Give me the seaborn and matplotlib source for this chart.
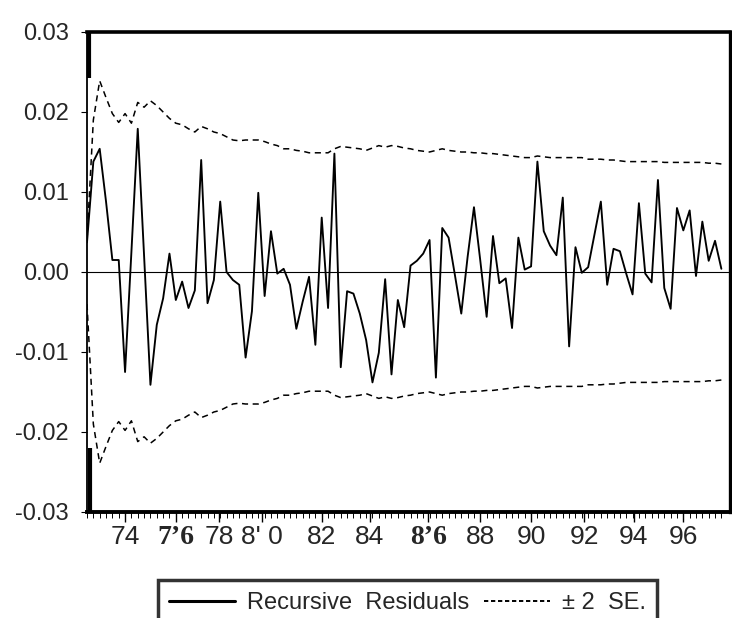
import numpy as np
import pandas as pd
import matplotlib
matplotlib.use("Agg")
import matplotlib.pyplot as plt
import seaborn as sns
from matplotlib.lines import Line2D

# ---- data (quarterly, starting 1972 Q3) ----
start_year = 1972.5
residuals = [
    0.0037, 0.0138, 0.0154, 0.0088, 0.0015, 0.0015, -0.0125, 0.0025, 0.0179, 0.0020,
    -0.0141, -0.0066, -0.0033, 0.0023, -0.0035, -0.0012, -0.0045, -0.0023, 0.0140, -0.0039,
    -0.0010, 0.0088, 0.0000, -0.0010, -0.0016, -0.0107, -0.0049, 0.0099, -0.0030, 0.0051,
    -0.0002, 0.0004, -0.0016, -0.0071, -0.0037, -0.0006, -0.0091, 0.0068, -0.0045, 0.0148,
    -0.0119, -0.0024, -0.0027, -0.0052, -0.0085, -0.0138, -0.0101, -0.0009, -0.0128, -0.0035,
    -0.0069, 0.0008, 0.0014, 0.0023, 0.0040, -0.0132, 0.0055, 0.0043, -0.0004, -0.0052,
    0.0019, 0.0081, 0.0014, -0.0056, 0.0045, -0.0014, -0.0008, -0.0070, 0.0043, 0.0003,
    0.0007, 0.0138, 0.0051, 0.0033, 0.0021, 0.0093, -0.0093, 0.0031, -0.0001, 0.0006,
    0.0047, 0.0088, -0.0016, 0.0029, 0.0026, -0.0002, -0.0028, 0.0086, -0.0002, -0.0013,
    0.0115, -0.0020, -0.0046, 0.0080, 0.0052, 0.0077, -0.0005, 0.0063, 0.0014, 0.0039,
    0.0004,
]
two_se = [
    0.0040, 0.0190, 0.0239, 0.0218, 0.0198, 0.0187, 0.0198, 0.0186, 0.0212, 0.0206,
    0.0214, 0.0208, 0.0200, 0.0192, 0.0186, 0.0184, 0.0179, 0.0175, 0.0182, 0.0179,
    0.0175, 0.0173, 0.0169, 0.0165, 0.0164, 0.0165, 0.0165, 0.0165, 0.0163, 0.0160,
    0.0158, 0.0154, 0.0154, 0.0152, 0.0151, 0.0149, 0.0149, 0.0149, 0.0149, 0.0154,
    0.0157, 0.0156, 0.0155, 0.0154, 0.0152, 0.0155, 0.0158, 0.0156, 0.0158, 0.0157,
    0.0155, 0.0154, 0.0152, 0.0151, 0.0150, 0.0152, 0.0154, 0.0152, 0.0151, 0.0150,
    0.0150, 0.0149, 0.0149, 0.0148, 0.0148, 0.0147, 0.0146, 0.0145, 0.0144, 0.0143,
    0.0143, 0.0145, 0.0144, 0.0143, 0.0143, 0.0143, 0.0143, 0.0143, 0.0143, 0.0141,
    0.0141, 0.0141, 0.0140, 0.0140, 0.0139, 0.0138, 0.0138, 0.0138, 0.0138, 0.0138,
    0.0138, 0.0137, 0.0137, 0.0137, 0.0137, 0.0137, 0.0137, 0.0137, 0.0136, 0.0136,
    0.0135,
]
xtick_positions = [1974.0, 1976.0, 1977.7, 1979.4, 1981.75, 1983.65, 1985.95,
                   1988.0, 1990.0, 1992.1, 1994.05, 1996.0]
xtick_labels = ["74", "7\u20196", "78", "8' 0", "82", "84", "8\u20196",
                "88", "90", "92", "94", "96"]
bold_labels = ["7\u20196", "8\u20196"]
ytick_values = [-0.03, -0.02, -0.01, 0.0, 0.01, 0.02, 0.03]
ytick_labels = ["-0.03", "-0.02", "-0.01", "0.00", "0.01", "0.02", "0.03"]
legend_labels = ["Recursive  Residuals", "\u00b1 2  SE."]

n = len(residuals)
period = start_year + np.arange(n) / 4.0
df = pd.DataFrame({
    "period": period,
    "resid": residuals,
    "upper": np.array(two_se),
    "lower": -np.array(two_se),
})

sns.set_theme(style="white")
plt.rcParams["font.family"] = ["Liberation Sans", "DejaVu Sans"]

W, H = 732, 618
fig = plt.figure(figsize=(W / 100, H / 100), dpi=100)
ax = fig.add_axes([87 / W, 1 - 512 / H, (730 - 87) / W, (512 - 32) / H])

ax.axhline(0, color="black", lw=0.8, zorder=1)
sns.lineplot(data=df, x="period", y="resid", ax=ax, color="black", lw=1.35,
             estimator=None, sort=False, legend=False)
for col in ["upper", "lower"]:
    sns.lineplot(data=df, x="period", y=col, ax=ax, color="black", lw=1.1,
                 linestyle=(0, (4, 3)), estimator=None, sort=False, legend=False)

ax.set_xlim(start_year, 1997.84)
ax.set_ylim(-0.03, 0.03)
ax.set_xlabel("")
ax.set_ylabel("")

for side, lw in [("top", 2.6), ("right", 2.4), ("bottom", 2.8), ("left", 1.3)]:
    ax.spines[side].set_visible(True)
    ax.spines[side].set_color("black")
    ax.spines[side].set_linewidth(lw)
# heavier stretches of the left frame line seen in the reference
ax.plot([0.003, 0.003], [1.0, 0.905], transform=ax.transAxes, color="black",
        lw=3.0, clip_on=False, solid_capstyle="butt")
ax.plot([0.005, 0.005], [0.0, 0.133], transform=ax.transAxes, color="black",
        lw=3.0, clip_on=False, solid_capstyle="butt")

ax.set_yticks(ytick_values)
ax.set_yticklabels(ytick_labels)
ax.tick_params(axis="y", which="major", direction="out", length=4, width=0.8,
               color="black", labelsize=17, pad=9, left=True)

ax.set_xticks(xtick_positions)
ax.set_xticklabels(xtick_labels)
ax.set_xticks(period, minor=True)
ax.tick_params(axis="x", which="major", direction="out", length=7, width=1.0,
               color="black", labelsize=19, pad=2, bottom=True)
ax.tick_params(axis="x", which="minor", direction="out", length=4, width=0.7,
               color="black", bottom=True)
for lab in ax.get_xticklabels():
    if lab.get_text() in bold_labels:
        lab.set_fontfamily(["Liberation Serif", "DejaVu Serif"])
        lab.set_fontweight("bold")
        lab.set_fontsize(20)
    else:
        lab.set_fontfamily(["Liberation Sans Narrow", "Liberation Sans", "DejaVu Sans"])

handles = [Line2D([], [], color="black", lw=2.2),
           Line2D([], [], color="black", lw=1.4, linestyle=(0, (2.2, 1.4)))]
leg = fig.legend(handles, legend_labels, loc="upper center",
                 bbox_to_anchor=(407.5 / W, 1 - 580 / H), ncol=2, frameon=True,
                 fancybox=False, edgecolor="black", fontsize=17, handlelength=2.8,
                 borderpad=0.5, columnspacing=0.6, handletextpad=0.5,
                 borderaxespad=0)
leg.get_frame().set_linewidth(2.5)
leg.get_frame().set_facecolor("white")

fig.savefig("out.png", dpi=100)
